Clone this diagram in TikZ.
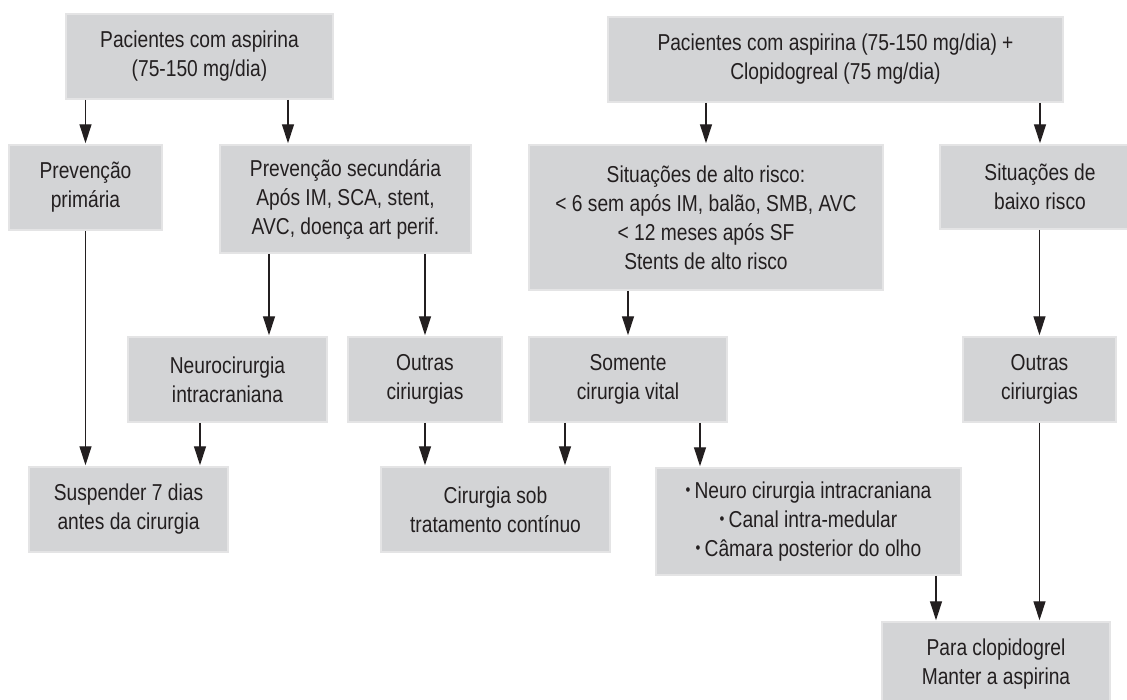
\documentclass[tikz,border=0pt]{standalone}
\usepackage{fontspec}
\usepackage{graphicx}
\setmainfont{Liberation Sans}[FakeStretch=0.835]
\usetikzlibrary{arrows.meta}
\definecolor{boxfill}{HTML}{D3D4D6}
\definecolor{boxline}{HTML}{E4E4E5}
\definecolor{ink}{HTML}{231F20}
\newcommand\mybul{\raisebox{0.22ex}{\scalebox{0.72}{•}}\hspace{0.18em}}
\begin{document}
\begin{tikzpicture}[x=1pt,y=-1pt,
  box/.style={fill=boxfill, draw=boxline, line width=1.5pt, inner sep=0pt,
    align=center, text=ink, font=\fontsize{23}{29}\selectfont},
  arr/.style={draw=ink, line width=1.3pt, shorten >=1pt, -{Triangle[length=19pt,width=12pt]}}]
\useasboundingbox (0,0) rectangle (1127,699);
\fill[white] (0,0) rectangle (1127,699);

\node[box, minimum width=267pt, minimum height=85pt] (A) at (199.5,56.5) {Pacientes com aspirina\\(75-150 mg/dia)};
\node[box, minimum width=455pt, minimum height=85pt] (B) at (835.5,59.5) {Pacientes com aspirina (75-150 mg/dia) +\\Clopidogreal (75 mg/dia)};
\node[box, minimum width=153pt, minimum height=85pt] (prim) at (85.5,187.5) {Prevenção\\primária};
\node[box, minimum width=251pt, minimum height=108pt] (sec) at (345.5,199) {Prevenção secundária\\Após IM, SCA, stent,\\AVC, doença art perif.};
\node[box, minimum width=354pt, minimum height=145pt] (alto) at (706,217.5) {Situações de alto risco:\\< 6 sem após IM, balão, SMB, AVC\\< 12 meses após SF\\Stents de alto risco};
\node[box, minimum width=200pt, minimum height=84pt] (baixo) at (1040,187) {Situações de\\baixo risco};
\node[box, minimum width=199pt, minimum height=85pt] (neuro) at (227.5,379.5) {Neurocirurgia\\intracraniana};
\node[box, minimum width=154pt, minimum height=85pt] (outL) at (425,379.5) {Outras\\ciriurgias};
\node[box, minimum width=198pt, minimum height=85pt] (som) at (628,379.5) {Somente\\cirurgia vital};
\node[box, minimum width=153pt, minimum height=85pt] (outR) at (1039.5,379.5) {Outras\\ciriurgias};
\node[box, minimum width=199pt, minimum height=85pt] (susp) at (128.5,509.5) {Suspender 7 dias\\antes da cirurgia};
\node[box, minimum width=229pt, minimum height=85pt] (cir) at (495.5,509.5) {Cirurgia sob\\tratamento contínuo};
\node[box, minimum width=305pt, minimum height=107pt] (list) at (808.5,521.5) {\mybul Neuro cirurgia intracraniana\\\mybul Canal intra-medular\\\mybul Câmara posterior do olho};
\node[box, minimum width=228pt, minimum height=85pt] (para) at (996,664.5) {Para clopidogrel\\Manter a aspirina};

\coordinate (xa) at (288,0);
\coordinate (xb) at (269,0);
\coordinate (xc) at (200,0);
\coordinate (xd) at (565,0);
\coordinate (xe) at (700,0);
\coordinate (xf) at (936,0);

\draw[arr] (A.south -| prim.north) -- (prim.north);
\draw[arr] (A.south -| xa) -- (sec.north -| xa);
\draw[arr] (B.south -| alto.north) -- (alto.north);
\draw[arr] (B.south -| baixo.north) -- (baixo.north);
\draw[arr] (sec.south -| xb) -- (neuro.north -| xb);
\draw[arr] (sec.south -| outL.north) -- (outL.north);
\draw[arr] (alto.south -| som.north) -- (som.north);
\draw[arr] (baixo.south -| outR.north) -- (outR.north);
\draw[arr] (prim.south) -- (susp.north -| prim.south);
\draw[arr] (neuro.south -| xc) -- (susp.north -| xc);
\draw[arr] (outL.south) -- (cir.north -| outL.south);
\draw[arr] (som.south -| xd) -- (cir.north -| xd);
\draw[arr] (som.south -| xe) -- (list.north -| xe);
\draw[arr] (list.south -| xf) -- (para.north -| xf);
\draw[arr] (outR.south) -- (para.north -| outR.south);
\end{tikzpicture}
\end{document}
